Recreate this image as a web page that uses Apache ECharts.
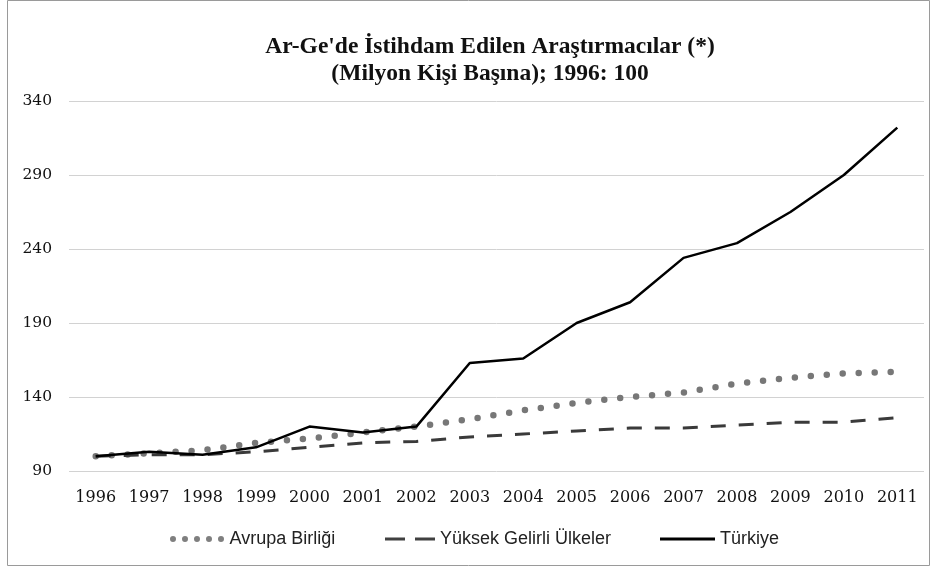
<!DOCTYPE html>
<html>
<head>
<meta charset="utf-8">
<script src="https://cdn.jsdelivr.net/npm/echarts@6/dist/echarts.min.js"></script>
<style>
  html, body { margin: 0; padding: 0; background: #fff; }
  #chart { width: 932px; height: 568px; }
</style>
</head>
<body>
<div id="chart"></div>
<script>
var years = ['1996','1997','1998','1999','2000','2001','2002','2003','2004','2005','2006','2007','2008','2009','2010','2011'];
var avrupa = [100, 102, 104, 109, 112, 116, 120, 125, 131, 136, 140, 143, 149, 153, 156, 157];
var yuksek = [100, 101, 101, 103, 106, 109, 110, 113, 115, 117, 119, 119, 121, 123, 123, 126];
var turkiye = [100, 103, 101, 106, 120, 116, 120, 163, 166, 190, 204, 234, 244, 265, 290, 322];
var yTicks = [90, 140, 190, 240, 290, 340];

var serif = '"DejaVu Serif", "Liberation Serif", serif';
var legendText = { fontFamily: '"Liberation Sans", sans-serif', fontSize: 18, color: '#222' };

// legend icons: dotted, dashed and solid strokes
var dotIcon = 'path://M0,3a3,3 0 1,0 6,0a3,3 0 1,0 -6,0Z M12,3a3,3 0 1,0 6,0a3,3 0 1,0 -6,0Z M24,3a3,3 0 1,0 6,0a3,3 0 1,0 -6,0Z M36,3a3,3 0 1,0 6,0a3,3 0 1,0 -6,0Z M48,3a3,3 0 1,0 6,0a3,3 0 1,0 -6,0Z';
var dashIcon = 'path://M0,0H20V3H0Z M30,0H50V3H30Z';
var lineIcon = 'path://M0,0H55V3H0Z';

var chart = echarts.init(document.getElementById('chart'));
chart.setOption({
  animation: false,
  title: {
    text: "Ar-Ge'de İstihdam Edilen Araştırmacılar (*)\n(Milyon Kişi Başına); 1996: 100",
    left: 485,
    textAlign: 'center',
    top: 28,
    textStyle: {
      fontFamily: '"Liberation Serif", serif',
      fontWeight: 'bold',
      fontSize: 23.5,
      lineHeight: 27,
      color: '#111'
    }
  },
  grid: { left: 69, right: 8, top: 101, bottom: 97 },
  legend: [
    { data: ['Avrupa Birliği'], left: 170, top: 530, padding: 0, icon: dotIcon, itemWidth: 55, itemHeight: 6, textStyle: legendText },
    { data: ['Yüksek Gelirli Ülkeler'], left: 385, top: 530, padding: 0, icon: dashIcon, itemWidth: 50, itemHeight: 3, textStyle: legendText },
    { data: ['Türkiye'], left: 660, top: 530, padding: 0, icon: lineIcon, itemWidth: 55, itemHeight: 3, textStyle: legendText }
  ],
  xAxis: {
    type: 'category',
    data: years,
    boundaryGap: true,
    axisLine: { show: false },
    axisTick: { show: false },
    axisLabel: { margin: 19, fontFamily: serif, fontSize: 16, color: '#111', interval: 0 }
  },
  yAxis: {
    type: 'value',
    min: yTicks[0],
    max: yTicks[yTicks.length - 1],
    interval: 50,
    axisLine: { show: false },
    axisTick: { show: false },
    axisLabel: { margin: 17, fontFamily: serif, fontSize: 15.5, color: '#111' },
    splitLine: { lineStyle: { color: '#d2d2d2', width: 1 } }
  },
  series: [
    {
      name: 'Avrupa Birliği',
      type: 'line',
      data: avrupa,
      symbol: 'none',
      lineStyle: { color: '#777', width: 6.5, type: [0, 16], cap: 'round' },
      itemStyle: { color: '#7f7f7f' },
      z: 2
    },
    {
      name: 'Yüksek Gelirli Ülkeler',
      type: 'line',
      data: yuksek,
      symbol: 'none',
      lineStyle: { color: '#3a3a3a', width: 3, type: [15, 13] },
      itemStyle: { color: '#404040' },
      z: 3
    },
    {
      name: 'Türkiye',
      type: 'line',
      data: turkiye,
      symbol: 'none',
      lineStyle: { color: '#000', width: 2.5 },
      itemStyle: { color: '#000' },
      z: 4
    }
  ],
  graphic: [{
    type: 'rect',
    shape: { x: 7.5, y: 0.5, width: 922, height: 565 },
    style: { fill: 'none', stroke: '#9a9a9a', lineWidth: 1 },
    silent: true
  }]
});
</script>
</body>
</html>
